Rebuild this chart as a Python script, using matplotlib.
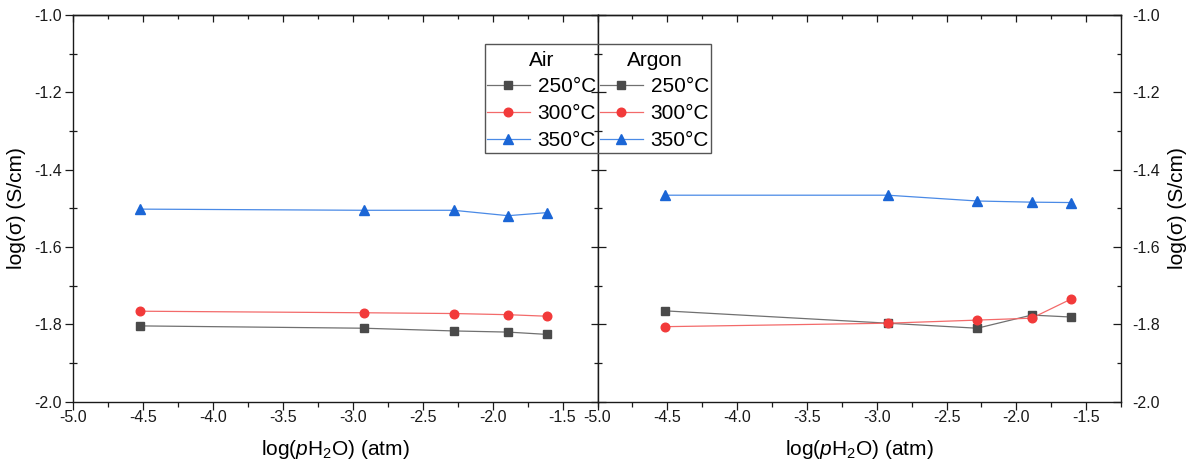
import matplotlib
matplotlib.use("Agg")
import matplotlib.pyplot as plt
from matplotlib.ticker import MultipleLocator, FormatStrFormatter
from matplotlib.patches import Rectangle
from matplotlib.lines import Line2D

plt.rcParams['font.family'] = ['Liberation Sans', 'DejaVu Sans']
plt.rcParams['mathtext.fontset'] = 'custom'
plt.rcParams['mathtext.rm'] = 'Liberation Sans'
plt.rcParams['mathtext.it'] = 'Liberation Sans:italic'

# log of water partial pressure (atm)
log_ph2o = [-4.52, -2.92, -2.28, -1.89, -1.61]

# log conductivity (S/cm) in air
air_250 = [-1.804, -1.810, -1.817, -1.820, -1.826]
air_300 = [-1.766, -1.770, -1.772, -1.775, -1.779]
air_350 = [-1.502, -1.505, -1.505, -1.519, -1.511]

# log conductivity (S/cm) in argon
argon_250 = [-1.765, -1.797, -1.810, -1.776, -1.781]
argon_300 = [-1.806, -1.797, -1.789, -1.784, -1.735]
argon_350 = [-1.466, -1.466, -1.481, -1.484, -1.485]

temperatures = ['250°C', '300°C', '350°C']
markers = ['s', 'o', '^']
marker_sizes = [5.8, 6.2, 7.0]
marker_colors = ['#4a4a4a', '#f23a3a', '#1b66d6']
line_colors = ['#707070', '#f36a6a', '#4a8ae6']

W, H = 1191, 465
fig = plt.figure(figsize=(W / 100, H / 100), dpi=100)

x0, x_mid, x1 = 73.3, 597.5, 1121
y_top, y_bot = 15, 401.7
ax1 = fig.add_axes([x0 / W, 1 - y_bot / H, (x_mid - x0) / W, (y_bot - y_top) / H])
ax2 = fig.add_axes([x_mid / W, 1 - y_bot / H, (x1 - x_mid) / W, (y_bot - y_top) / H])

TICK_FS = 11.5
LABEL_FS = 15
spine_c = '#1a1a1a'


def draw_series(ax, series):
    handles = []
    for vals, t, m, ms, mc, lc in zip(series, temperatures, markers, marker_sizes,
                                      marker_colors, line_colors):
        ax.plot(log_ph2o, vals, color=lc, lw=0.9, zorder=2)
        ax.plot(log_ph2o, vals, linestyle='none', marker=m, markersize=ms,
                markerfacecolor=mc, markeredgecolor=mc, zorder=3)
        handles.append(Line2D([], [], color=lc, lw=0.9, marker=m, markersize=ms,
                              markerfacecolor=mc, markeredgecolor=mc))
    return handles


h_air = draw_series(ax1, [air_250, air_300, air_350])
h_argon = draw_series(ax2, [argon_250, argon_300, argon_350])

for ax in (ax1, ax2):
    ax.set_xlim(-5.0, -1.25)
    ax.set_ylim(-2.0, -1.0)
    ax.xaxis.set_major_locator(MultipleLocator(0.5))
    ax.xaxis.set_minor_locator(MultipleLocator(0.25))
    ax.yaxis.set_major_locator(MultipleLocator(0.2))
    ax.yaxis.set_minor_locator(MultipleLocator(0.1))
    ax.xaxis.set_major_formatter(FormatStrFormatter('%.1f'))
    ax.yaxis.set_major_formatter(FormatStrFormatter('%.1f'))
    for s in ax.spines.values():
        s.set_linewidth(1.0)
        s.set_color(spine_c)
    ax.tick_params(axis='x', which='major', direction='out', length=6, width=0.9,
                   labelsize=TICK_FS, pad=0, colors=spine_c, top=False)
    ax.tick_params(axis='x', which='minor', direction='out', length=3.5, width=0.9,
                   colors=spine_c, top=False)
    ax.set_xlabel(r'log($\it{p}$H$_2$O) (atm)', fontsize=LABEL_FS, labelpad=9)
    # inward ticks on the top edge
    sec = ax.secondary_xaxis('top')
    sec.xaxis.set_major_locator(MultipleLocator(0.5))
    sec.xaxis.set_minor_locator(MultipleLocator(0.25))
    sec.tick_params(axis='x', which='major', direction='in', length=5, width=0.9,
                    labeltop=False, colors=spine_c)
    sec.tick_params(axis='x', which='minor', direction='in', length=3, width=0.9,
                    colors=spine_c)
    sec.spines['top'].set_linewidth(1.0)
    sec.spines['top'].set_color(spine_c)

# left panel: outward ticks with labels on the left, inward ticks on the right
ax1.tick_params(axis='y', which='major', direction='out', length=6, width=0.9,
                labelsize=TICK_FS, pad=2, right=False, colors=spine_c)
ax1.tick_params(axis='y', which='minor', direction='inout', length=6, width=0.9,
                right=False, colors=spine_c)
ax1.set_ylabel('log(σ) (S/cm)', fontsize=LABEL_FS, labelpad=6)
sec_r = ax1.secondary_yaxis('right')
sec_r.yaxis.set_major_locator(MultipleLocator(0.2))
sec_r.yaxis.set_minor_locator(MultipleLocator(0.1))
sec_r.tick_params(axis='y', which='major', direction='in', length=5, width=0.9,
                  labelright=False, colors=spine_c)
sec_r.tick_params(axis='y', which='minor', direction='in', length=3, width=0.9,
                  colors=spine_c)

# right panel: inward ticks on both sides, labels on the right
ax2.tick_params(axis='y', which='major', direction='in', length=6, width=0.9,
                left=True, right=True, labelleft=False, labelright=True,
                labelsize=TICK_FS, pad=8, colors=spine_c)
ax2.tick_params(axis='y', which='minor', direction='in', length=3, width=0.9,
                left=True, right=True, colors=spine_c)
ax2.yaxis.set_label_position('right')
ax2.set_ylabel('log(σ) (S/cm)', fontsize=LABEL_FS, labelpad=6)

# two-column legend: one column per atmosphere
LEG_FS = 15
common = dict(frameon=False, fontsize=LEG_FS, title_fontsize=LEG_FS, handlelength=2.05,
              handletextpad=0.38, labelspacing=0.39, borderpad=0.0, borderaxespad=0.0,
              loc='upper left')
leg_air = fig.legend(h_air, temperatures, title='Air',
                     bbox_to_anchor=(487 / W, 1 - 51 / H), **common)
leg_argon = fig.legend(h_argon, temperatures, title='Argon',
                       bbox_to_anchor=(600 / W, 1 - 51 / H), **common)
for leg in (leg_air, leg_argon):
    leg._legend_box.sep = 5
fig.add_artist(Rectangle((485 / W, 1 - 153 / H), 226 / W, 109 / H,
                         transform=fig.transFigure, fill=False,
                         edgecolor='#555555', linewidth=1.0))

fig.savefig('out.png', dpi=100)
